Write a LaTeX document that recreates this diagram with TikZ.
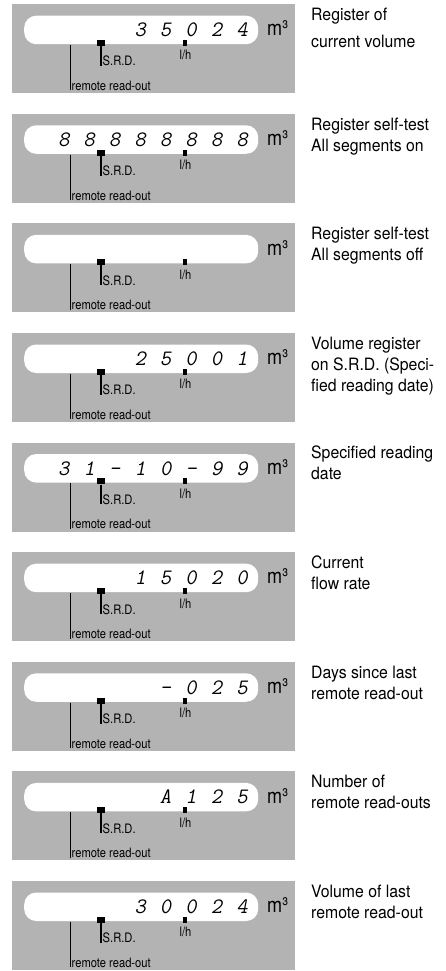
\documentclass[tikz,border=0pt]{standalone}
\usepackage{fontspec}
\usepackage{graphicx}
\setmainfont{TeX Gyre Heros}
\newfontfamily\capfont{TeX Gyre Heros}
\newfontfamily\tagfont{TeX Gyre Heros}[FakeStretch=0.86]
\newfontfamily\lcdfont{Latin Modern Mono}[FakeSlant=0.2,WordSpace={1.25,0,0}]
\newcommand\caplines[1]{\scalebox{0.93}[1]{\begin{tabular}[t]{@{}l@{}}#1\end{tabular}}}
\definecolor{panelgray}{HTML}{B3B3B3}
\tikzset{
  panel/.style={fill=panelgray,inner sep=0pt,minimum width=283pt,minimum height=89pt,anchor=north west},
  lcdbar/.style={fill=white,rounded corners=12pt,inner sep=0pt,minimum width=234pt,minimum height=28.5pt,anchor=north west},
  lcd/.style={inner sep=0pt,anchor=east,font=\lcdfont\fontsize{22}{24}\selectfont},
  marksrd/.style={fill=black,inner sep=0pt,minimum width=8pt,minimum height=6pt},
  marklh/.style={fill=black,inner sep=0pt,minimum width=4pt,minimum height=6pt},
  tag/.style={inner sep=0pt,font=\tagfont\fontsize{13}{15}\selectfont},
  unit/.style={inner sep=0pt,anchor=west,font=\tagfont\fontsize{21}{24}\selectfont},
  captext/.style={inner sep=0pt,anchor=base west,font=\capfont\fontsize{17}{21}\selectfont},
  tick/.style={line width=1.2pt}
}
\begin{document}
\begin{tikzpicture}[x=1pt,y=-1pt]
\useasboundingbox (0,0) rectangle (445,971);
% one panel per display state
\foreach \k/\val/\txt in {
  0/{3 5 0 2 4}/{Register of\\[6pt]current volume},
  1/{8 8 8 8 8 8 8 8}/{Register self-test\\All segments on},
  2/{}/{Register self-test\\All segments off},
  3/{2 5 0 0 1}/{Volume register\\on S.R.D. (Speci-\\fied reading date)},
  4/{3 1 - 1 0 - 9 9}/{Specified reading\\date},
  5/{1 5 0 2 0}/{Current\\flow rate},
  6/{- 0 2 5}/{Days since last\\remote read-out},
  7/{A 1 2 5}/{Number of\\remote read-outs},
  8/{3 0 0 2 4}/{Volume of last\\remote read-out}}{
  \pgfmathsetmacro{\ptop}{4+109.6*\k}
  \node[panel] (p\k) at (12,\ptop) {};
  \node[lcdbar] (bar\k) at (24,\ptop+11.5) {};
  \node[lcd] (val\k) at (248,\ptop+26) {\val};
  \node[unit] (m\k) at (267,\ptop+24.5) {m³};
  \node[marksrd] (srd\k) at (101,\ptop+39) {};
  \node[marklh] (lh\k) at (185,\ptop+39) {};
  \node[tag,anchor=base] (lht\k) at (185.5,\ptop+56) {l/h};
  \node[tag,anchor=base west] (srdt\k) at (102.5,\ptop+62) {S.R.D.};
  \node[tag,anchor=base west] (rrt\k) at (71.5,\ptop+86.5) {remote read-out};
  \coordinate (rr\k) at (70.3,\ptop+41);
  \draw[tick] (srd\k.south) -- (srdt\k.base west -| srd\k.south);
  \draw[tick] (rr\k) -- (rrt\k.base west -| rr\k);
  \node[captext] (c\k) at (311,\ptop+16.5) {\caplines{\txt}};
}
\end{tikzpicture}
\end{document}
